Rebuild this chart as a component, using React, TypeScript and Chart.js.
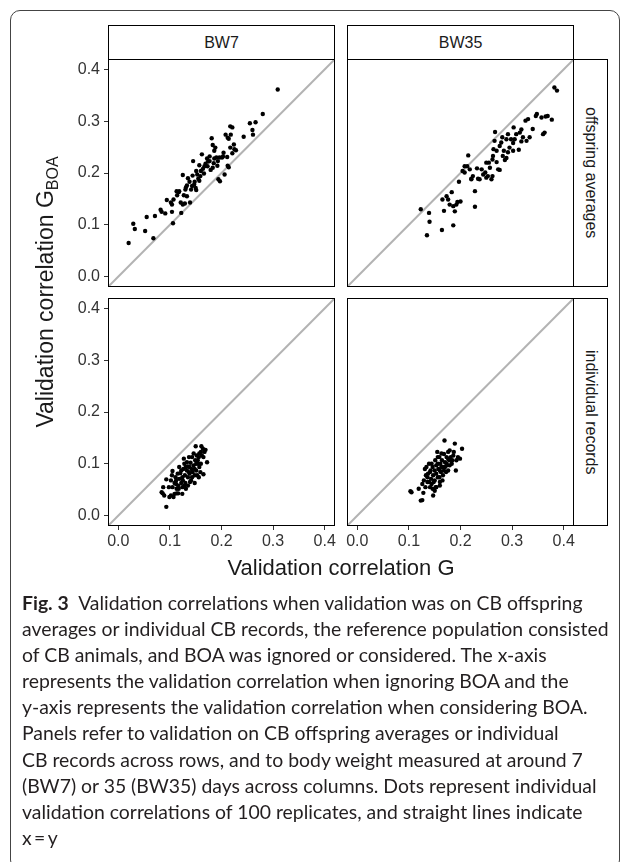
import React, { useEffect, useRef } from "react";
import { Chart, registerables } from "chart.js";

Chart.register(...registerables);

// ---------- data ----------
const AXIS_MIN = -0.02;
const AXIS_MAX = 0.42;
const tickValues = [0, 0.1, 0.2, 0.3, 0.4];
const tickLabels = ["0.0", "0.1", "0.2", "0.3", "0.4"];
const columnLabels = ["BW7", "BW35"];
const rowLabels = ["offspring averages", "individual records"];
const identityLine: [number, number][] = [[-0.02, -0.02], [0.42, 0.42]];
const xTitle = "Validation correlation G";
const yTitle = "Validation correlation G";
const yTitleSub = "BOA";

const bw7Offspring: [number, number][] = [
  [0.020, 0.065], [0.029, 0.102], [0.032, 0.092], [0.052, 0.088], [0.055, 0.115], [0.068, 0.074],
  [0.071, 0.117], [0.082, 0.129], [0.084, 0.125], [0.091, 0.122], [0.094, 0.148], [0.104, 0.125],
  [0.106, 0.103], [0.107, 0.149], [0.104, 0.139], [0.113, 0.165], [0.117, 0.163], [0.114, 0.157],
  [0.121, 0.143], [0.122, 0.123], [0.125, 0.196], [0.125, 0.139], [0.129, 0.141], [0.127, 0.157],
  [0.130, 0.168], [0.133, 0.176], [0.135, 0.190], [0.138, 0.183], [0.139, 0.143], [0.141, 0.168],
  [0.145, 0.223], [0.147, 0.178], [0.150, 0.171], [0.151, 0.204], [0.153, 0.197], [0.155, 0.189],
  [0.157, 0.215], [0.159, 0.194], [0.162, 0.236], [0.164, 0.208], [0.166, 0.199], [0.169, 0.218],
  [0.172, 0.228], [0.174, 0.222], [0.177, 0.232], [0.179, 0.206], [0.181, 0.267], [0.183, 0.254],
  [0.185, 0.219], [0.186, 0.228], [0.188, 0.249], [0.190, 0.230], [0.192, 0.214], [0.194, 0.188],
  [0.197, 0.184], [0.201, 0.230], [0.203, 0.232], [0.206, 0.197], [0.208, 0.274], [0.211, 0.231],
  [0.212, 0.268], [0.214, 0.211], [0.214, 0.266], [0.217, 0.290], [0.221, 0.288], [0.217, 0.249],
  [0.221, 0.238], [0.224, 0.255], [0.225, 0.246], [0.228, 0.244], [0.243, 0.270], [0.255, 0.296],
  [0.260, 0.283], [0.261, 0.274], [0.266, 0.298], [0.280, 0.314], [0.309, 0.361], [0.131, 0.172],
  [0.143, 0.175], [0.148, 0.183], [0.160, 0.204], [0.167, 0.213], [0.173, 0.213], [0.183, 0.210],
  [0.118, 0.165], [0.133, 0.155], [0.151, 0.167], [0.186, 0.243], [0.196, 0.230], [0.218, 0.274],
  [0.212, 0.214], [0.157, 0.185], [0.144, 0.195], [0.177, 0.223], [0.102, 0.143], [0.193, 0.223],
  [0.204, 0.239],
];

const bw35Offspring: [number, number][] = [
  [0.123, 0.130], [0.139, 0.123], [0.140, 0.106], [0.135, 0.080], [0.164, 0.090], [0.168, 0.127],
  [0.186, 0.099], [0.165, 0.149], [0.173, 0.155], [0.183, 0.163], [0.179, 0.139], [0.186, 0.136],
  [0.189, 0.126], [0.194, 0.144], [0.200, 0.145], [0.197, 0.183], [0.204, 0.204], [0.215, 0.234],
  [0.213, 0.213], [0.218, 0.207], [0.221, 0.189], [0.224, 0.194], [0.228, 0.165], [0.228, 0.135],
  [0.232, 0.209], [0.234, 0.189], [0.237, 0.188], [0.244, 0.197], [0.248, 0.201], [0.250, 0.220],
  [0.253, 0.194], [0.257, 0.210], [0.260, 0.188], [0.262, 0.226], [0.263, 0.233], [0.264, 0.246],
  [0.266, 0.262], [0.267, 0.279], [0.270, 0.221], [0.273, 0.207], [0.276, 0.206], [0.276, 0.252],
  [0.279, 0.259], [0.282, 0.233], [0.284, 0.243], [0.286, 0.225], [0.289, 0.229], [0.292, 0.275],
  [0.295, 0.249], [0.298, 0.265], [0.302, 0.258], [0.303, 0.288], [0.305, 0.265], [0.308, 0.275],
  [0.313, 0.245], [0.315, 0.278], [0.318, 0.261], [0.321, 0.269], [0.326, 0.301], [0.328, 0.262],
  [0.331, 0.304], [0.340, 0.285], [0.346, 0.310], [0.348, 0.314], [0.357, 0.307], [0.360, 0.275],
  [0.363, 0.278], [0.365, 0.309], [0.369, 0.310], [0.377, 0.303], [0.382, 0.365], [0.387, 0.359],
  [0.208, 0.201], [0.221, 0.188], [0.241, 0.207], [0.255, 0.220], [0.270, 0.243], [0.281, 0.269],
  [0.292, 0.240], [0.302, 0.243], [0.250, 0.191], [0.262, 0.194], [0.192, 0.139], [0.176, 0.149],
  [0.208, 0.213], [0.289, 0.265], [0.318, 0.284], [0.334, 0.269],
];

const bw7Individual: [number, number][] = [
  [0.093, 0.017], [0.086, 0.043], [0.084, 0.045], [0.089, 0.039], [0.087, 0.055], [0.093, 0.070],
  [0.099, 0.036], [0.102, 0.039], [0.107, 0.036], [0.109, 0.042], [0.113, 0.043], [0.116, 0.043],
  [0.124, 0.042], [0.105, 0.086], [0.102, 0.068], [0.105, 0.055], [0.109, 0.063], [0.112, 0.068],
  [0.113, 0.052], [0.116, 0.058], [0.118, 0.071], [0.120, 0.082], [0.122, 0.063], [0.124, 0.055],
  [0.125, 0.068], [0.126, 0.090], [0.128, 0.100], [0.129, 0.078], [0.130, 0.063], [0.131, 0.052],
  [0.133, 0.087], [0.135, 0.074], [0.135, 0.095], [0.137, 0.113], [0.138, 0.081], [0.139, 0.065],
  [0.140, 0.102], [0.142, 0.090], [0.143, 0.074], [0.144, 0.084], [0.146, 0.097], [0.148, 0.063],
  [0.149, 0.107], [0.150, 0.134], [0.151, 0.087], [0.152, 0.116], [0.153, 0.078], [0.155, 0.100],
  [0.156, 0.113], [0.157, 0.094], [0.159, 0.084], [0.160, 0.123], [0.161, 0.134], [0.162, 0.116],
  [0.164, 0.129], [0.165, 0.080], [0.167, 0.123], [0.169, 0.127], [0.172, 0.103], [0.127, 0.110],
  [0.133, 0.103], [0.118, 0.094], [0.122, 0.087], [0.115, 0.081], [0.111, 0.074], [0.104, 0.078],
  [0.098, 0.055], [0.135, 0.058], [0.143, 0.113], [0.146, 0.120], [0.151, 0.100], [0.156, 0.074],
  [0.138, 0.094], [0.148, 0.090], [0.128, 0.058], [0.124, 0.074], [0.131, 0.094], [0.141, 0.068],
  [0.154, 0.107], [0.160, 0.100], [0.112, 0.061], [0.117, 0.052], [0.148, 0.078], [0.137, 0.084],
  [0.157, 0.120], [0.165, 0.113],
];

const bw35Individual: [number, number][] = [
  [0.103, 0.047], [0.105, 0.045], [0.119, 0.052], [0.123, 0.029], [0.126, 0.030], [0.128, 0.044],
  [0.147, 0.039], [0.129, 0.068], [0.131, 0.090], [0.133, 0.078], [0.136, 0.065], [0.137, 0.081],
  [0.139, 0.100], [0.141, 0.055], [0.142, 0.087], [0.143, 0.071], [0.144, 0.061], [0.146, 0.094],
  [0.147, 0.078], [0.148, 0.065], [0.150, 0.087], [0.151, 0.107], [0.152, 0.055], [0.153, 0.097],
  [0.155, 0.123], [0.156, 0.074], [0.157, 0.090], [0.159, 0.113], [0.160, 0.065], [0.161, 0.100],
  [0.162, 0.084], [0.164, 0.107], [0.165, 0.068], [0.166, 0.094], [0.168, 0.119], [0.169, 0.145],
  [0.170, 0.103], [0.172, 0.084], [0.173, 0.113], [0.174, 0.097], [0.176, 0.123], [0.178, 0.107],
  [0.179, 0.126], [0.181, 0.113], [0.183, 0.100], [0.186, 0.116], [0.189, 0.139], [0.191, 0.087],
  [0.192, 0.107], [0.195, 0.113], [0.199, 0.110], [0.203, 0.129], [0.134, 0.094], [0.136, 0.074],
  [0.141, 0.084], [0.144, 0.100], [0.150, 0.068], [0.153, 0.081], [0.156, 0.100], [0.160, 0.087],
  [0.163, 0.094], [0.166, 0.078], [0.170, 0.094], [0.173, 0.100], [0.176, 0.110], [0.179, 0.097],
  [0.184, 0.107], [0.187, 0.123], [0.159, 0.074], [0.146, 0.052], [0.150, 0.048], [0.139, 0.065],
  [0.132, 0.055], [0.126, 0.061], [0.163, 0.120], [0.156, 0.113], [0.168, 0.087], [0.176, 0.087],
  [0.160, 0.058], [0.153, 0.055],
];

const captionLines = [
  "Validation correlations when validation was on CB offspring",
  "averages or individual CB records, the reference population consisted",
  "of CB animals, and BOA was ignored or considered. The x-axis",
  "represents the validation correlation when ignoring BOA and the",
  "y-axis represents the validation correlation when considering BOA.",
  "Panels refer to validation on CB offspring averages or individual",
  "CB records across rows, and to body weight measured at around 7",
  "(BW7) or 35 (BW35) days across columns. Dots represent individual",
  "validation correlations of 100 replicates, and straight lines indicate",
  "x\u2009=\u2009y",
];
const captionLabel = "Fig. 3";

// ---------- layout ----------
const FONT = '"Liberation Sans", Arial, Helvetica, sans-serif';
const PANEL_W = 227;
const PANEL_H = 228;
const COL_LEFT = [108, 347];
const ROW_TOP = [59, 298];
const Y_AXIS_W = 50;
const HIDDEN_Y_W = 12;
const X_AXIS_H = 28;
const PAD = 16;

const borderPlugin = {
  id: "panelBorder",
  afterDraw(chart: any) {
    const { ctx, chartArea } = chart;
    ctx.save();
    ctx.strokeStyle = "#000";
    ctx.lineWidth = 1;
    ctx.strokeRect(chartArea.left + 0.5, chartArea.top + 0.5, chartArea.right - chartArea.left - 1, chartArea.bottom - chartArea.top - 1);
    ctx.restore();
  },
};

function Panel({ points, row, col }: { points: [number, number][]; row: number; col: number }) {
  const ref = useRef<HTMLCanvasElement>(null);
  const showY = col === 0;
  const showX = row === 1;
  const yW = showY ? Y_AXIS_W : HIDDEN_Y_W;
  const padBottom = showX ? 0 : PAD;
  const width = yW + PANEL_W + PAD;
  const height = PAD + PANEL_H + (showX ? X_AXIS_H : PAD);
  const left = COL_LEFT[col] - yW;
  const top = ROW_TOP[row] - PAD;

  useEffect(() => {
    const canvas = ref.current;
    if (!canvas) return;
    const tickFont = { family: FONT, size: 16 };
    const chart = new Chart(canvas, {
      type: "scatter",
      data: {
        datasets: [
          {
            type: "line",
            data: identityLine.map(([x, y]) => ({ x, y })),
            borderColor: "#b3b3b3",
            borderWidth: 2,
            pointRadius: 0,
            showLine: true,
            fill: false,
            order: 2,
          } as any,
          {
            data: points.map(([x, y]) => ({ x, y })),
            backgroundColor: "#000",
            borderColor: "#000",
            borderWidth: 0,
            pointRadius: 2.2,
            pointHoverRadius: 2.2,
            order: 1,
          },
        ],
      },
      options: {
        animation: false,
        responsive: false,
        maintainAspectRatio: false,
        events: [],
        layout: { padding: { left: 0, top: PAD, bottom: padBottom, right: PAD } },
        plugins: { legend: { display: false }, tooltip: { enabled: false } },
        scales: {
          x: {
            type: "linear",
            min: AXIS_MIN,
            max: AXIS_MAX,
            display: showX,
            afterBuildTicks: (s: any) => {
              s.ticks = tickValues.map((v) => ({ value: v }));
            },
            afterFit: (s: any) => {
              s.height = showX ? X_AXIS_H : 0;
            },
            grid: { drawOnChartArea: false, drawTicks: true, tickLength: 4, color: "#333", lineWidth: 1 },
            border: { display: false },
            ticks: {
              color: "#333",
              font: tickFont,
              padding: 2,
              maxRotation: 0,
              autoSkip: false,
              callback: (v: any) => tickLabels[tickValues.indexOf(Number(v))] ?? "",
            },
          },
          y: {
            type: "linear",
            min: AXIS_MIN,
            max: AXIS_MAX,
            display: true,
            afterBuildTicks: (s: any) => {
              s.ticks = tickValues.map((v) => ({ value: v }));
            },
            afterFit: (s: any) => {
              s.width = yW;
            },
            grid: { display: showY, drawOnChartArea: false, drawTicks: showY, tickLength: 4, color: "#333", lineWidth: 1 },
            border: { display: false },
            ticks: {
              display: showY,
              color: "#333",
              font: tickFont,
              padding: 4,
              autoSkip: false,
              callback: (v: any) => tickLabels[tickValues.indexOf(Number(v))] ?? "",
            },
          },
        },
      },
      plugins: [borderPlugin],
    } as any);
    return () => chart.destroy();
  }, [points, showX, showY, yW, padBottom]);

  return (
    <canvas
      ref={ref}
      width={width}
      height={height}
      style={{ position: "absolute", left, top, width, height }}
    />
  );
}

export default function App() {
  const panels: [number, number][][][] = [
    [bw7Offspring, bw35Offspring],
    [bw7Individual, bw35Individual],
  ];
  const stripStyle: React.CSSProperties = {
    position: "absolute",
    boxSizing: "border-box",
    border: "1px solid #000",
    background: "#fff",
    display: "flex",
    alignItems: "center",
    justifyContent: "center",
    fontFamily: FONT,
    fontSize: 16,
    color: "#1a1a1a",
  };
  return (
    <div style={{ position: "absolute", left: 0, top: 0, width: 630, height: 862, overflow: "hidden", background: "#fff" }}>
      <div
        style={{
          position: "absolute",
          left: 10,
          top: 10,
          width: 610,
          height: 860,
          boxSizing: "border-box",
          border: "1px solid #444",
          borderRadius: 10,
        }}
      />
      {columnLabels.map((lab, c) => (
        <div key={lab} style={{ ...stripStyle, left: COL_LEFT[c], top: 25, width: PANEL_W, height: 35 }}>
          {lab}
        </div>
      ))}
      {rowLabels.map((lab, r) => (
        <div
          key={lab}
          style={{ ...stripStyle, left: COL_LEFT[1] + PANEL_W - 1, top: ROW_TOP[r], width: 35, height: PANEL_H }}
        >
          <span style={{ writingMode: "vertical-rl", whiteSpace: "nowrap" }}>{lab}</span>
        </div>
      ))}
      {panels.map((rowData, r) =>
        rowData.map((pts, c) => <Panel key={`${r}-${c}`} points={pts} row={r} col={c} />)
      )}
      <div
        style={{
          position: "absolute",
          left: 45 - 200,
          top: 292 - 15,
          width: 400,
          height: 30,
          transform: "rotate(-90deg)",
          textAlign: "center",
          fontFamily: FONT,
          fontSize: 23,
          lineHeight: "30px",
          color: "#1a1a1a",
          whiteSpace: "nowrap",
        }}
      >
        {yTitle}
        <span style={{ fontSize: 16, position: "relative", top: 5 }}>{yTitleSub}</span>
      </div>
      <div
        style={{
          position: "absolute",
          left: 341 - 200,
          top: 568 - 15,
          width: 400,
          height: 30,
          textAlign: "center",
          fontFamily: FONT,
          fontSize: 22,
          lineHeight: "30px",
          color: "#1a1a1a",
          whiteSpace: "nowrap",
        }}
      >
        {xTitle}
      </div>
      <div
        style={{
          position: "absolute",
          left: 22,
          top: 590,
          fontFamily: "Lato, 'Open Sans', sans-serif",
          fontSize: 19.4,
          lineHeight: "26.1px",
          color: "#231f20",
          whiteSpace: "nowrap",
        }}
      >
        {captionLines.map((line, i) => (
          <div key={i}>
            {i === 0 ? <b style={{ fontWeight: 700 }}>{captionLabel}&nbsp;&nbsp;</b> : null}
            {line}
          </div>
        ))}
      </div>
    </div>
  );
}
